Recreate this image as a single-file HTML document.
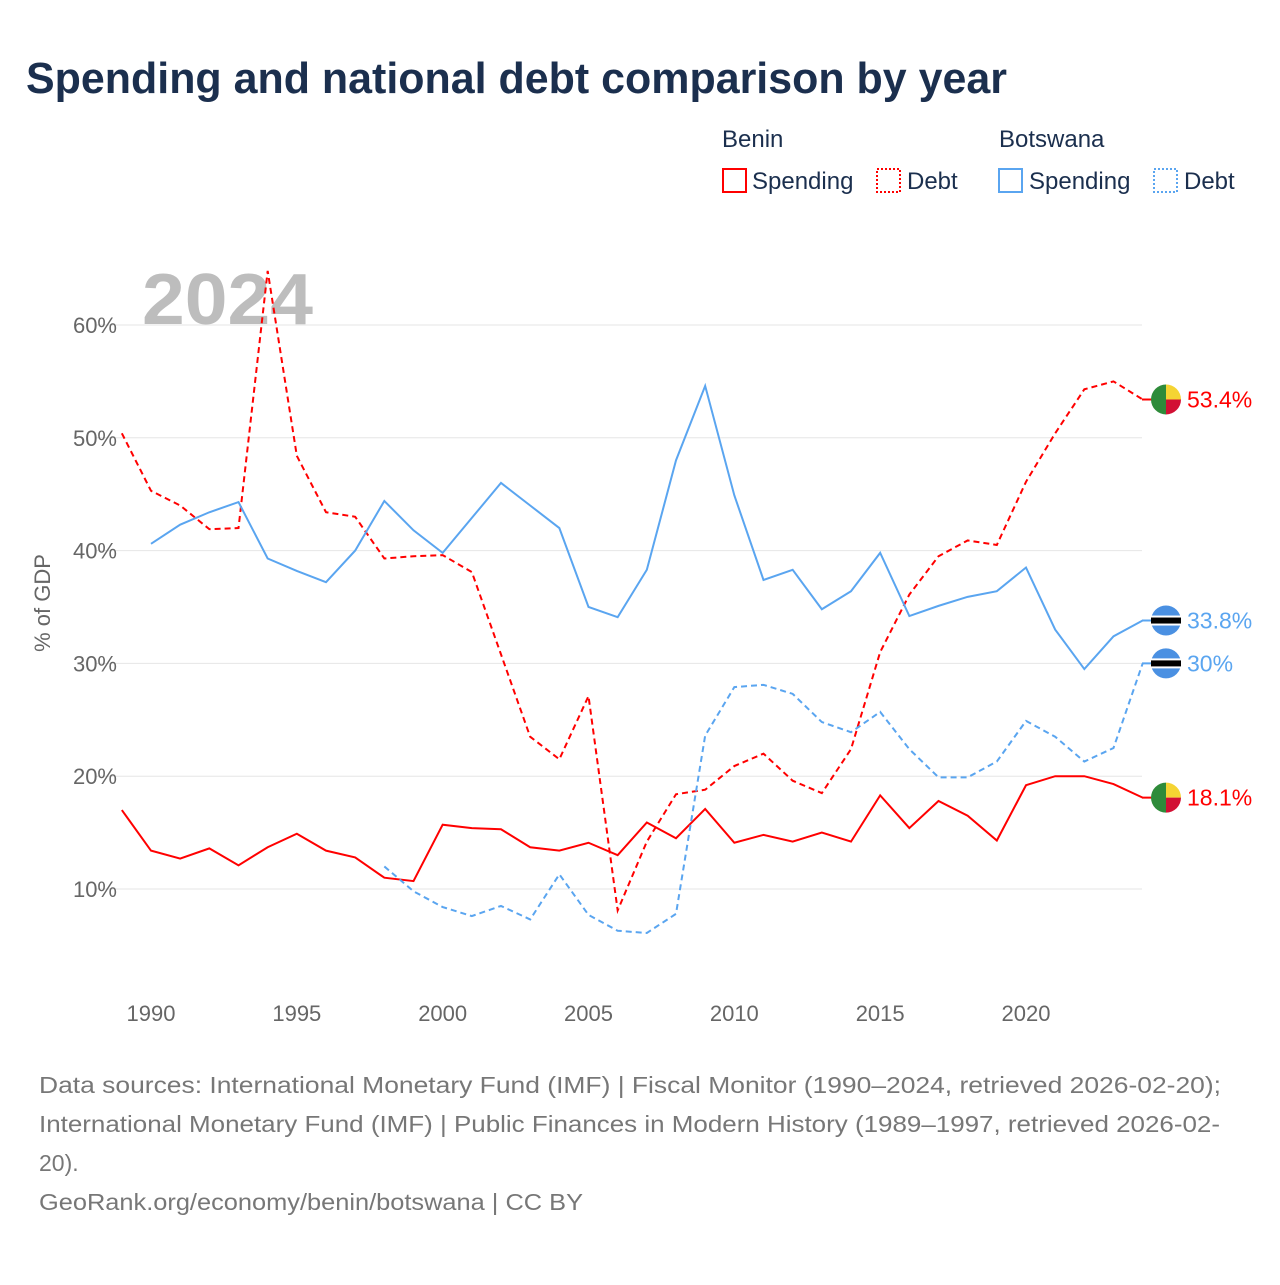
<!DOCTYPE html>
<html><head><meta charset="utf-8"><style>
body{margin:0;background:#fff;font-family:"Liberation Sans",sans-serif;}
svg text{font-family:"Liberation Sans",sans-serif;}
</style></head><body>
<svg id="c" width="1280" height="1280" viewBox="0 0 1280 1280">
<text x="26" y="93" font-size="44" font-weight="bold" fill="#1b2f4e" textLength="981" lengthAdjust="spacingAndGlyphs">Spending and national debt comparison by year</text>
<g>
<text x="722" y="147" font-size="24" fill="#1b2f4e">Benin</text>
<text x="999" y="147" font-size="24" fill="#1b2f4e">Botswana</text>
<g><rect x="723" y="169" width="23" height="23" fill="none" stroke="#ff0000" stroke-width="2"/><text x="752" y="189" font-size="24" fill="#1b2f4e">Spending</text></g>
<g><rect x="877" y="169" width="23" height="23" fill="none" stroke="#ff0000" stroke-width="2" stroke-dasharray="2,2"/><text x="907" y="189" font-size="24" fill="#1b2f4e">Debt</text></g>
<g><rect x="999" y="169" width="23" height="23" fill="none" stroke="#5aa5f0" stroke-width="2"/><text x="1029" y="189" font-size="24" fill="#1b2f4e">Spending</text></g>
<g><rect x="1154" y="169" width="23" height="23" fill="none" stroke="#5aa5f0" stroke-width="2" stroke-dasharray="2,2"/><text x="1184" y="189" font-size="24" fill="#1b2f4e">Debt</text></g>
</g>
<text x="142" y="324" font-size="72" font-weight="bold" fill="#bdbdbd" textLength="171" lengthAdjust="spacingAndGlyphs">2024</text>
<text transform="translate(50,603) rotate(-90)" text-anchor="middle" font-size="22" fill="#666">% of GDP</text>
<g id="grid"></g><g id="lines"></g><g id="marks"></g>
<g font-size="23" fill="#777">
<text x="39" y="1093" textLength="1182" lengthAdjust="spacingAndGlyphs">Data sources: International Monetary Fund (IMF) | Fiscal Monitor (1990–2024, retrieved 2026-02-20);</text>
<text x="39" y="1132" textLength="1181" lengthAdjust="spacingAndGlyphs">International Monetary Fund (IMF) | Public Finances in Modern History (1989–1997, retrieved 2026-02-</text>
<text x="39" y="1171">20).</text>
<text x="39" y="1210" textLength="544" lengthAdjust="spacingAndGlyphs">GeoRank.org/economy/benin/botswana | CC BY</text>
</g>
</svg>
<script>
const yTicks=[10,20,30,40,50,60];
const xTicks=[1990,1995,2000,2005,2010,2015,2020];
const beninSpendingYears=[1989,1990,1991,1992,1993,1994,1995,1996,1997,1998,1999,2000,2001,2002,2003,2004,2005,2006,2007,2008,2009,2010,2011,2012,2013,2014,2015,2016,2017,2018,2019,2020,2021,2022,2023,2024];
const beninSpending=[17.0,13.4,12.7,13.6,12.1,13.7,14.9,13.4,12.8,11.0,10.7,15.7,15.4,15.3,13.7,13.4,14.1,13.0,15.9,14.5,17.1,14.1,14.8,14.2,15.0,14.2,18.3,15.4,17.8,16.5,14.3,19.2,20.0,20.0,19.3,18.1];
const beninDebt=[50.4,45.3,44.0,41.9,42.0,64.8,48.4,43.4,43.0,39.3,39.5,39.6,38.1,30.8,23.5,21.5,27.1,8.1,14.2,18.4,18.8,20.9,22.0,19.6,18.5,22.4,31.0,36.1,39.5,40.9,40.5,46.1,50.4,54.3,55.0,53.4];
const botswanaSpendingYears=[1990,1991,1992,1993,1994,1995,1996,1997,1998,1999,2000,2001,2002,2003,2004,2005,2006,2007,2008,2009,2010,2011,2012,2013,2014,2015,2016,2017,2018,2019,2020,2021,2022,2023,2024];
const botswanaSpending=[40.6,42.3,43.4,44.3,39.3,38.2,37.2,40.0,44.4,41.8,39.8,42.9,46.0,44.0,42.0,35.0,34.1,38.3,48.0,54.6,44.9,37.4,38.3,34.8,36.4,39.8,34.2,35.1,35.9,36.4,38.5,33.0,29.5,32.4,33.8];
const botswanaDebtYears=[1998,1999,2000,2001,2002,2003,2004,2005,2006,2007,2008,2009,2010,2011,2012,2013,2014,2015,2016,2017,2018,2019,2020,2021,2022,2023,2024];
const botswanaDebt=[12.0,9.8,8.4,7.6,8.5,7.3,11.3,7.7,6.3,6.1,7.8,23.6,27.9,28.1,27.3,24.8,23.9,25.7,22.4,19.9,19.9,21.3,24.9,23.5,21.3,22.5,30.0];
const X=y=>151+(y-1990)*875/30;
const Y=v=>1001.8-v*11.28;
const NS="http://www.w3.org/2000/svg";
function mk(t,a,p){const e=document.createElementNS(NS,t);for(const k in a)e.setAttribute(k,a[k]);p.appendChild(e);return e;}
const grid=document.getElementById('grid');
yTicks.forEach(v=>{
 const l=mk('line',{x1:95,x2:1142,y1:Y(v),y2:Y(v),stroke:'#e6e6e6','stroke-width':1},grid);
 
 
 const t=mk('text',{x:117,y:Y(v)+8,'text-anchor':'end','font-size':22,fill:'#666'},grid);
 t.textContent=v+'%';
 
 
});
xTicks.forEach(y=>{
 const t=mk('text',{x:X(y),y:1021,'text-anchor':'middle','font-size':22,fill:'#666'},grid);
 t.textContent=y;
 
 
});
const lines=document.getElementById('lines');
function series(years,vals,color,dash,name){
 const p=mk('polyline',{points:years.map((y,i)=>X(y)+','+Y(vals[i])).join(' '),fill:'none',stroke:color,'stroke-width':2,'stroke-dasharray':dash},lines);
 
 
}
series(beninSpendingYears,beninSpending,'#ff0000','none','benin-spending-line');
series(beninSpendingYears,beninDebt,'#ff0000','6,4','benin-debt-line');
series(botswanaSpendingYears,botswanaSpending,'#5aa5f0','none','botswana-spending-line');
series(botswanaDebtYears,botswanaDebt,'#5aa5f0','6,4','botswana-debt-line');
const marks=document.getElementById('marks');
function flag(v,country,color,name){
 const cx=1166,cy=Y(v),r=15;
 const g=mk('g',{},marks);
 
 
 mk('line',{x1:1142,x2:cx,y1:cy,y2:cy,stroke:color,'stroke-width':2},g);
 if(country==='benin'){
  mk('path',{d:`M${cx},${cy-r} A${r},${r} 0 0 0 ${cx},${cy+r} Z`,fill:'#2e8b3a'},g);
  mk('path',{d:`M${cx},${cy-r} A${r},${r} 0 0 1 ${cx+r},${cy} L${cx},${cy} Z`,fill:'#f5d433'},g);
  mk('path',{d:`M${cx+r},${cy} A${r},${r} 0 0 1 ${cx},${cy+r} L${cx},${cy} Z`,fill:'#d21034'},g);
 }else{
  mk('circle',{cx:cx,cy:cy,r:r,fill:'#4a90e2'},g);
  mk('rect',{x:cx-r,y:cy-5,width:2*r,height:10,fill:'#fff'},g);
  mk('rect',{x:cx-r,y:cy-3,width:2*r,height:6,fill:'#000'},g);
 }
 const t=mk('text',{x:1187,y:cy+8,'font-size':23,fill:color},g);
 t.textContent=(Math.round(v*10)/10)+'%';
}
flag(beninDebt[beninDebt.length-1],'benin','#ff0000','benin-debt-end-label');
flag(botswanaSpending[botswanaSpending.length-1],'botswana','#5aa5f0','botswana-spending-end-label');
flag(botswanaDebt[botswanaDebt.length-1],'botswana','#5aa5f0','botswana-debt-end-label');
flag(beninSpending[beninSpending.length-1],'benin','#ff0000','benin-spending-end-label');
</script>
</body></html>
